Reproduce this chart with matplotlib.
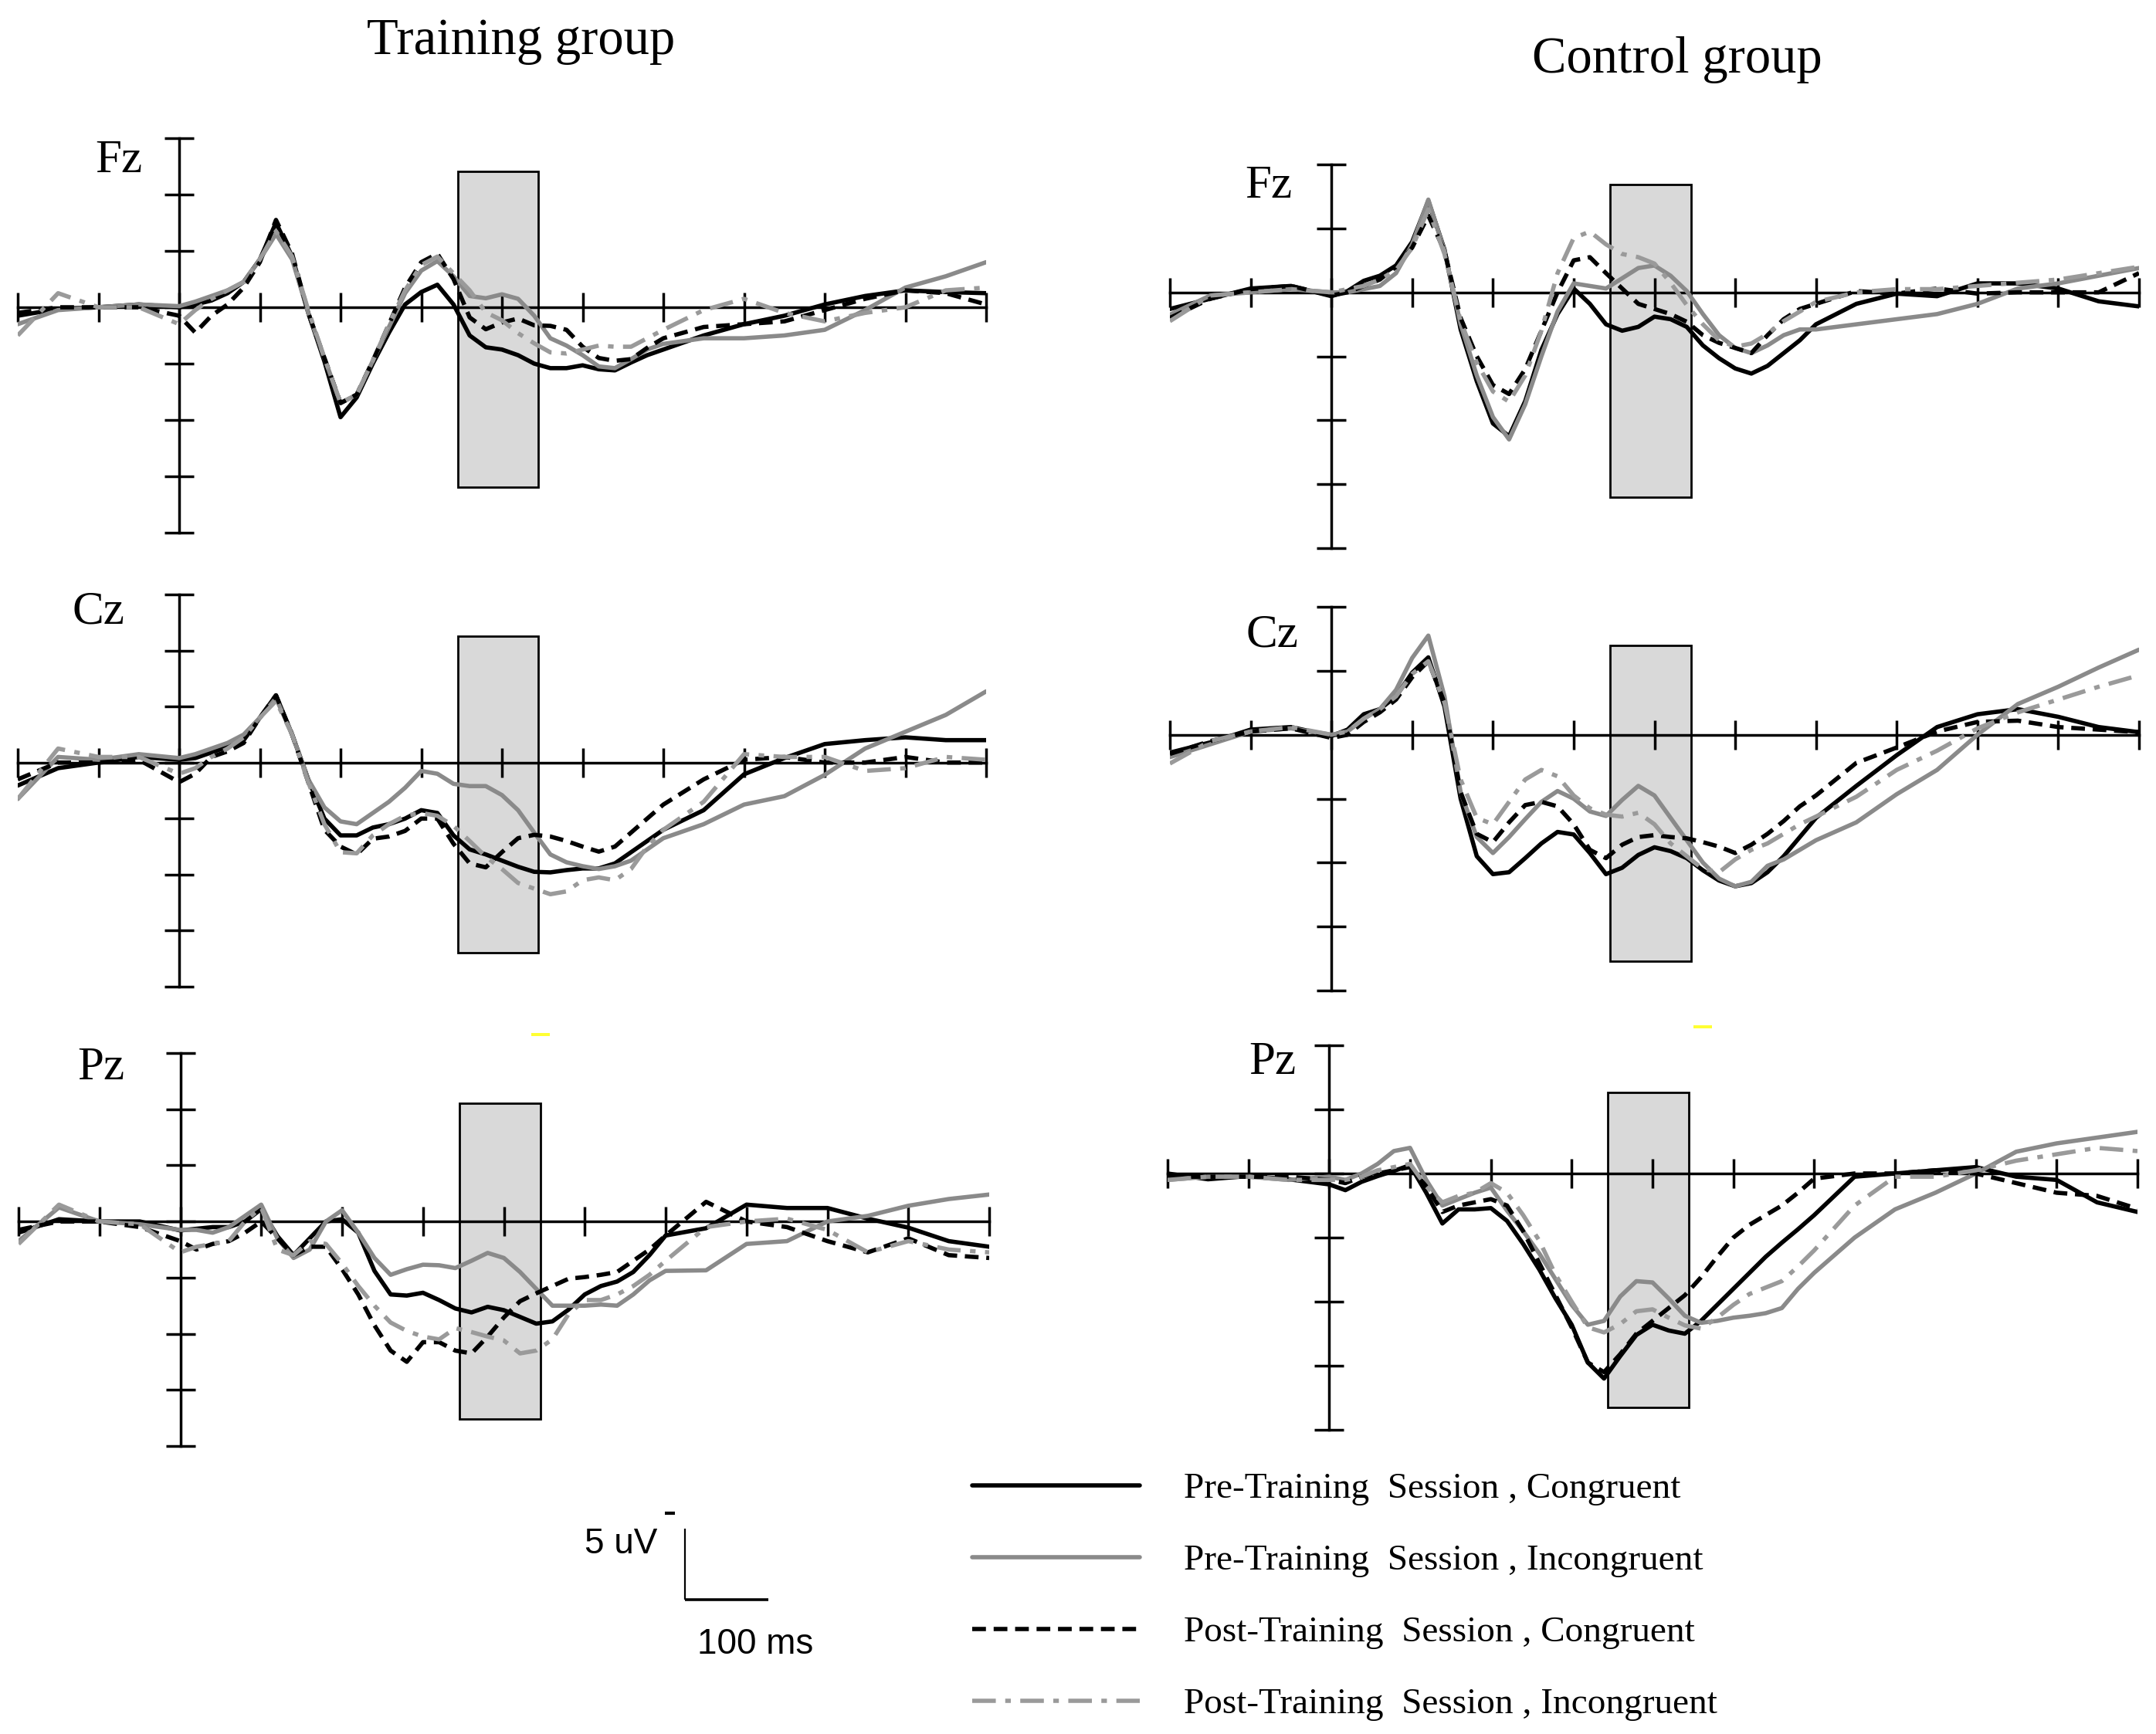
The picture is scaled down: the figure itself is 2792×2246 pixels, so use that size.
import numpy as np
import matplotlib
matplotlib.use("Agg")
import matplotlib.pyplot as plt
from matplotlib.patches import Rectangle

# ---------------- data ----------------
TIME_MS = [-200, -150, -100, -50, 0, 20, 40, 60, 80, 100, 120, 140, 160, 180, 200,
           220, 240, 260, 280, 300, 320, 340, 360, 380, 400, 420, 440, 460, 480, 500,
           520, 540, 560, 580, 600, 650, 700, 750, 800, 850, 900, 950, 1000]
UV_PER_DIV = 4.0          # one y-tick division = 4 uV (negative plotted up)
TIME_TICKS = list(range(-200, 1001, 100))
WINDOW_MS = [345, 445]

# values in divisions (positive = positive uV, drawn downward)
TRAIN_FZ_PRE_CON = [0.15, 0.03, 0.0, -0.05, 0.0,
    -0.05, -0.12, -0.25, -0.45, -0.85, -1.5, -0.9, 0.1, 0.96, 1.95,
    1.6, 1.0, 0.45, -0.05, -0.27, -0.4, -0.05, 0.5, 0.71, 0.75,
    0.85, 1.0, 1.08, 1.08, 1.03, 1.1, 1.12, 0.98, 0.85, 0.75,
    0.5, 0.3, 0.15, -0.05, -0.2, -0.3, -0.27, -0.25]
TRAIN_FZ_PRE_INC = [0.3, 0.05, 0.0, -0.05, -0.02,
    -0.1, -0.2, -0.3, -0.45, -0.85, -1.3, -0.85, 0.1, 0.9, 1.7,
    1.55, 0.95, 0.35, -0.25, -0.65, -0.82, -0.55, -0.2, -0.16, -0.23,
    -0.15, 0.15, 0.55, 0.68, 0.85, 1.05, 1.08, 0.92, 0.75, 0.65,
    0.55, 0.55, 0.5, 0.4, 0.05, -0.35, -0.55, -0.8]
TRAIN_FZ_POST_CON = [0.1, 0.0, 0.0, 0.0, 0.15,
    0.45, 0.15, -0.05, -0.35, -0.8, -1.55, -0.95, 0.1, 0.9, 1.7,
    1.55, 0.95, 0.3, -0.35, -0.8, -0.95, -0.5, 0.18, 0.39, 0.27,
    0.2, 0.32, 0.33, 0.4, 0.7, 0.9, 0.95, 0.92, 0.72, 0.55,
    0.35, 0.3, 0.25, 0.05, -0.15, -0.3, -0.25, -0.05]
TRAIN_FZ_POST_INC = [0.5, -0.25, 0.0, 0.0, 0.3,
    0.05, -0.15, -0.3, -0.45, -0.85, -1.35, -0.9, 0.05, 0.9, 1.7,
    1.55, 0.95, 0.3, -0.3, -0.75, -0.9, -0.6, -0.3, 0.09, 0.23,
    0.46, 0.64, 0.8, 0.82, 0.75, 0.68, 0.7, 0.7, 0.55, 0.4,
    0.05, -0.15, 0.1, 0.25, 0.1, 0.0, -0.3, -0.35]

TRAIN_CZ_PRE_CON = [0.41, 0.1, 0.0, -0.1, -0.05,
    -0.08, -0.18, -0.28, -0.4, -0.8, -1.2, -0.5, 0.3, 1.0, 1.3,
    1.3, 1.16, 1.1, 1.0, 0.85, 0.9, 1.3, 1.55, 1.64, 1.75,
    1.86, 1.95, 1.96, 1.92, 1.89, 1.89, 1.8, 1.6, 1.4, 1.2,
    0.85, 0.21, -0.08, -0.33, -0.4, -0.45, -0.4, -0.4]
TRAIN_CZ_PRE_INC = [0.65, -0.1, -0.05, -0.15, -0.08,
    -0.15, -0.25, -0.35, -0.5, -0.8, -1.15, -0.5, 0.3, 0.8, 1.05,
    1.1, 0.9, 0.7, 0.45, 0.15, 0.2, 0.38, 0.42, 0.42, 0.58,
    0.85, 1.25, 1.64, 1.78, 1.85, 1.9, 1.85, 1.75, 1.55, 1.35,
    1.1, 0.75, 0.6, 0.22, -0.25, -0.55, -0.85, -1.27]
TRAIN_CZ_POST_CON = [0.3, 0.0, 0.0, -0.05, 0.35,
    0.2, -0.1, -0.2, -0.35, -0.8, -1.2, -0.5, 0.35, 1.2, 1.5,
    1.64, 1.36, 1.32, 1.22, 1.0, 1.0, 1.45, 1.8, 1.87, 1.6,
    1.35, 1.29, 1.32, 1.4, 1.5, 1.59, 1.5, 1.25, 1.0, 0.75,
    0.3, -0.05, -0.1, 0.0, 0.0, -0.1, 0.0, 0.0]
TRAIN_CZ_POST_INC = [0.65, -0.25, -0.1, -0.1, 0.2,
    0.1, -0.1, -0.25, -0.45, -0.8, -1.1, -0.5, 0.35, 1.1, 1.6,
    1.62, 1.3, 1.1, 0.95, 0.9, 0.95, 1.13, 1.4, 1.68, 1.9,
    2.15, 2.25, 2.35, 2.3, 2.1, 2.05, 2.1, 1.9, 1.5, 1.2,
    0.7, -0.15, -0.1, -0.1, 0.15, 0.1, -0.1, -0.05]

TRAIN_PZ_PRE_CON = [0.2, -0.04, 0.0, 0.0, 0.16,
    0.13, 0.1, 0.1, 0.0, -0.22, 0.26, 0.6, 0.3, 0.0, -0.04,
    0.2, 0.88, 1.3, 1.32, 1.27, 1.4, 1.55, 1.62, 1.52, 1.58,
    1.7, 1.82, 1.78, 1.57, 1.3, 1.15, 1.07, 0.9, 0.6, 0.25,
    0.12, -0.3, -0.24, -0.24, -0.05, 0.11, 0.35, 0.45]
TRAIN_PZ_PRE_INC = [0.35, -0.25, 0.0, 0.05, 0.15,
    0.15, 0.2, 0.1, -0.1, -0.3, 0.3, 0.65, 0.5, 0.0, -0.2,
    0.2, 0.65, 0.95, 0.85, 0.77, 0.78, 0.83, 0.7, 0.56, 0.65,
    0.9, 1.2, 1.5, 1.5, 1.5, 1.48, 1.5, 1.3, 1.05, 0.88,
    0.87, 0.4, 0.35, 0.0, -0.1, -0.28, -0.4, -0.48]
TRAIN_PZ_POST_CON = [0.15, 0.0, 0.0, 0.1, 0.35,
    0.5, 0.4, 0.35, 0.2, 0.0, 0.3, 0.6, 0.45, 0.45, 0.85,
    1.3, 1.85, 2.3, 2.5, 2.15, 2.15, 2.3, 2.35, 2.05, 1.71,
    1.42, 1.28, 1.15, 1.02, 0.99, 0.95, 0.9, 0.7, 0.5, 0.25,
    -0.35, 0.0, 0.1, 0.35, 0.55, 0.3, 0.6, 0.65]
TRAIN_PZ_POST_INC = [0.4, -0.3, 0.0, 0.05, 0.55,
    0.45, 0.4, 0.35, 0.0, -0.25, 0.5, 0.6, 0.35, 0.4, 0.75,
    1.15, 1.5, 1.8, 1.95, 2.05, 2.1, 1.9, 1.97, 2.05, 2.12,
    2.35, 2.3, 2.1, 1.65, 1.4, 1.4, 1.3, 1.15, 0.95, 0.7,
    0.1, 0.0, -0.05, 0.15, 0.55, 0.35, 0.5, 0.55]

CTRL_FZ_PRE_CON = [0.26, 0.1, -0.06, -0.1, 0.06,
    -0.02, -0.18, -0.26, -0.42, -0.79, -1.43, -0.67, 0.58, 1.39, 2.05,
    2.25, 1.7, 0.9, 0.34, -0.06, 0.18, 0.5, 0.6, 0.54, 0.38,
    0.42, 0.54, 0.83, 1.03, 1.19, 1.27, 1.15, 0.95, 0.75, 0.5,
    0.18, 0.02, 0.06, -0.14, -0.14, -0.06, 0.14, 0.22]
CTRL_FZ_PRE_INC = [0.35, 0.05, 0.0, -0.05, 0.0,
    0.0, -0.05, -0.1, -0.3, -0.75, -1.45, -0.65, 0.5, 1.3, 1.95,
    2.3, 1.75, 1.0, 0.3, -0.14, -0.1, -0.06, -0.22, -0.38, -0.42,
    -0.26, -0.02, 0.34, 0.67, 0.87, 0.95, 0.83, 0.67, 0.58, 0.58,
    0.5, 0.42, 0.34, 0.18, -0.06, -0.14, -0.26, -0.38]
CTRL_FZ_POST_CON = [0.4, 0.1, -0.05, -0.1, 0.05,
    0.0, -0.1, -0.2, -0.4, -0.7, -1.2, -0.65, 0.4, 1.0, 1.45,
    1.59, 1.2, 0.6, 0.0, -0.5, -0.55, -0.3, -0.06, 0.18, 0.26,
    0.34, 0.46, 0.67, 0.79, 0.87, 0.95, 0.67, 0.42, 0.26, 0.18,
    -0.02, 0.02, -0.06, 0.02, 0.0, 0.0, 0.0, -0.3]
CTRL_FZ_POST_INC = [0.45, 0.05, 0.0, -0.05, 0.0,
    -0.05, -0.1, -0.2, -0.35, -0.7, -1.3, -0.6, 0.45, 1.1, 1.55,
    1.71, 1.3, 0.6, -0.3, -0.85, -0.95, -0.75, -0.6, -0.55, -0.45,
    -0.15, 0.2, 0.5, 0.75, 0.85, 0.8, 0.65, 0.45, 0.3, 0.15,
    0.0, -0.05, -0.05, -0.1, -0.15, -0.2, -0.3, -0.4]

CTRL_CZ_PRE_CON = [0.28, 0.12, -0.08, -0.12, 0.02,
    -0.08, -0.32, -0.4, -0.6, -0.97, -1.21, -0.44, 1.0, 1.9, 2.18,
    2.15, 1.93, 1.7, 1.52, 1.56, 1.85, 2.18, 2.08, 1.88, 1.76,
    1.82, 1.93, 2.12, 2.28, 2.37, 2.32, 2.15, 1.9, 1.6, 1.3,
    0.8, 0.32, -0.12, -0.32, -0.4, -0.28, -0.12, -0.04]
CTRL_CZ_PRE_INC = [0.35, 0.15, -0.05, -0.1, 0.0,
    -0.05, -0.25, -0.4, -0.7, -1.2, -1.55, -0.6, 0.9, 1.6, 1.85,
    1.6, 1.32, 1.05, 0.88, 1.0, 1.2, 1.27, 1.02, 0.8, 0.95,
    1.3, 1.65, 2.0, 2.25, 2.37, 2.3, 2.05, 1.95, 1.8, 1.65,
    1.37, 0.93, 0.55, 0.0, -0.48, -0.75, -1.05, -1.33]
CTRL_CZ_POST_CON = [0.3, 0.1, -0.05, -0.1, 0.05,
    0.0, -0.2, -0.35, -0.55, -0.9, -1.15, -0.5, 0.9, 1.55, 1.68,
    1.37, 1.1, 1.05, 1.12, 1.4, 1.8, 1.93, 1.72, 1.6, 1.57,
    1.6, 1.62, 1.68, 1.75, 1.85, 1.72, 1.55, 1.35, 1.12, 0.95,
    0.44, 0.2, -0.05, -0.2, -0.22, -0.12, -0.08, -0.04]
CTRL_CZ_POST_INC = [0.45, 0.1, -0.05, -0.12, 0.0,
    -0.05, -0.25, -0.4, -0.6, -0.95, -1.15, -0.5, 0.7, 1.3, 1.4,
    1.05, 0.7, 0.55, 0.65, 0.95, 1.15, 1.25, 1.28, 1.22, 1.4,
    1.7, 1.9, 2.1, 2.15, 1.95, 1.8, 1.7, 1.55, 1.4, 1.28,
    0.97, 0.55, 0.25, -0.1, -0.35, -0.55, -0.75, -0.93]

CTRL_PZ_PRE_CON = [0.0, 0.09, 0.04, 0.09, 0.17,
    0.26, 0.13, 0.04, -0.04, -0.13, 0.3, 0.78, 0.56, 0.56, 0.54,
    0.74, 1.1, 1.5, 1.95, 2.36, 2.95, 3.2, 2.85, 2.52, 2.36,
    2.45, 2.5, 2.3, 2.05, 1.8, 1.55, 1.3, 1.08, 0.87, 0.65,
    0.05, 0.0, -0.05, -0.1, 0.05, 0.1, 0.45, 0.6]
CTRL_PZ_PRE_INC = [0.1, 0.05, 0.05, 0.1, 0.05,
    0.1, 0.0, -0.15, -0.35, -0.4, 0.1, 0.5, 0.4, 0.3, 0.22,
    0.58, 0.9, 1.25, 1.65, 2.05, 2.36, 2.3, 1.92, 1.68, 1.7,
    1.95, 2.22, 2.33, 2.3, 2.25, 2.22, 2.18, 2.1, 1.8, 1.55,
    1.0, 0.56, 0.3, 0.0, -0.34, -0.47, -0.56, -0.65]
CTRL_PZ_POST_CON = [0.05, 0.05, 0.05, 0.05, 0.1,
    0.15, 0.05, 0.0, -0.05, -0.1, 0.2, 0.6, 0.5, 0.45, 0.4,
    0.5, 0.9, 1.4, 1.9, 2.4, 2.95, 3.1, 2.82, 2.5, 2.3,
    2.1, 1.9, 1.62, 1.3, 1.0, 0.8, 0.65, 0.5, 0.3, 0.08,
    0.0, 0.0, -0.05, 0.0, 0.15, 0.3, 0.35, 0.55]
CTRL_PZ_POST_INC = [0.1, 0.05, 0.05, 0.1, 0.1,
    0.1, 0.05, -0.05, -0.1, -0.15, 0.2, 0.45, 0.35, 0.3, 0.15,
    0.3, 0.65, 1.05, 1.58, 2.0, 2.4, 2.48, 2.35, 2.15, 2.12,
    2.25, 2.37, 2.42, 2.25, 2.05, 1.88, 1.78, 1.68, 1.45, 1.2,
    0.5, 0.05, 0.05, -0.05, -0.2, -0.3, -0.4, -0.35]

# shaded analysis window vertical extent (divisions)
TRAIN_FZ_BOX = [-2.41, 3.19]
TRAIN_CZ_BOX = [-2.26, 3.39]
TRAIN_PZ_BOX = [-2.11, 3.52]
CTRL_FZ_BOX = [-1.69, 3.20]
CTRL_CZ_BOX = [-1.40, 3.54]
CTRL_PZ_BOX = [-1.26, 3.65]

GROUP_TITLES = ["Training group", "Control group"]
LEGEND_LABELS = ["Pre-Training  Session , Congruent",
                 "Pre-Training  Session , Incongruent",
                 "Post-Training  Session , Congruent",
                 "Post-Training  Session , Incongruent"]

# ---------------- layout ----------------
W, H, DPI = 2792, 2246, 100
fig = plt.figure(figsize=(W / DPI, H / DPI), dpi=DPI)
fig.patch.set_facecolor("white")

SERIF = ["Liberation Serif", "DejaVu Serif"]
SANS = ["Liberation Sans", "DejaVu Sans"]

def rect(x0, x1, ytop, ybot):
    return [x0 / W, 1 - ybot / H, (x1 - x0) / W, (ybot - ytop) / H]

STYLES = [dict(color="black", linestyle="-"),
          dict(color="#8a8a8a", linestyle="-"),
          dict(color="black", dashes=(3.2, 1.8)),
          dict(color="#9a9a9a", dashes=(5.5, 2.2, 1.3, 2.2))]
LW = 4.0

panels = [
    ((23, 1277, 179, 690), (3, 4), [TRAIN_FZ_PRE_CON, TRAIN_FZ_PRE_INC, TRAIN_FZ_POST_CON, TRAIN_FZ_POST_INC], TRAIN_FZ_BOX, (154, 208), "Fz"),
    ((23, 1277, 770, 1278), (3, 4), [TRAIN_CZ_PRE_CON, TRAIN_CZ_PRE_INC, TRAIN_CZ_POST_CON, TRAIN_CZ_POST_INC], TRAIN_CZ_BOX, (127, 793), "Cz"),
    ((24, 1281, 1364, 1873), (3, 4), [TRAIN_PZ_PRE_CON, TRAIN_PZ_PRE_INC, TRAIN_PZ_POST_CON, TRAIN_PZ_POST_INC], TRAIN_PZ_BOX, (131, 1383), "Pz"),
    ((1515, 2770, 213, 710), (2, 4), [CTRL_FZ_PRE_CON, CTRL_FZ_PRE_INC, CTRL_FZ_POST_CON, CTRL_FZ_POST_INC], CTRL_FZ_BOX, (1643, 241), "Fz"),
    ((1515, 2770, 786, 1283), (2, 4), [CTRL_CZ_PRE_CON, CTRL_CZ_PRE_INC, CTRL_CZ_POST_CON, CTRL_CZ_POST_INC], CTRL_CZ_BOX, (1647, 823), "Cz"),
    ((1512, 2768, 1354, 1852), (2, 4), [CTRL_PZ_PRE_CON, CTRL_PZ_PRE_INC, CTRL_PZ_POST_CON, CTRL_PZ_POST_INC], CTRL_PZ_BOX, (1648, 1376), "Pz"),
]

t = np.array(TIME_MS, dtype=float)
legend_handles = None
for (pix, (nup, ndown), series, box, lab_xy, chan) in panels:
    ax = fig.add_axes(rect(*pix))
    ax.set_facecolor("none")
    ytop, ybot = -nup * UV_PER_DIV, ndown * UV_PER_DIV
    ax.set_xlim(TIME_TICKS[0], TIME_TICKS[-1])
    ax.set_ylim(ybot, ytop)  # negative up
    ax.add_patch(Rectangle((WINDOW_MS[0], box[0] * UV_PER_DIV),
                           WINDOW_MS[1] - WINDOW_MS[0],
                           (box[1] - box[0]) * UV_PER_DIV,
                           facecolor="#d9d9d9", edgecolor="black",
                           linewidth=2.0, zorder=1))
    handles = []
    for vals, st in zip(series, STYLES):
        assert len(vals) == len(TIME_MS)
        ln, = ax.plot(t, np.array(vals) * UV_PER_DIV, lw=LW, zorder=3,
                      solid_joinstyle="round", solid_capstyle="round", **st)
        handles.append(ln)
    if legend_handles is None:
        legend_handles = handles
    for s in ("top", "right"):
        ax.spines[s].set_visible(False)
    ax.spines["left"].set_position(("data", 0))
    ax.spines["bottom"].set_position(("data", 0))
    for s in ("left", "bottom"):
        ax.spines[s].set_linewidth(2.5)
        ax.spines[s].set_zorder(2.5)
    ax.set_xticks(TIME_TICKS)
    ax.set_yticks(np.arange(ytop, ybot + 0.1, UV_PER_DIV))
    ax.tick_params(axis="both", direction="inout", length=27, width=2.5,
                   labelbottom=False, labelleft=False, color="black")
    fig.text(lab_xy[0] / W, 1 - lab_xy[1] / H, chan, ha="center", va="center",
             fontsize=44, family=SERIF)

fig.text(675 / W, 1 - 54 / H, GROUP_TITLES[0], ha="center", va="center",
         fontsize=48, family=SERIF)
fig.text(2172 / W, 1 - 78 / H, GROUP_TITLES[1], ha="center", va="center",
         fontsize=48, family=SERIF)

# small yellow marks present in the original
for (x0, y0, w, h) in [(688, 1338, 24, 4), (2193, 1328, 24, 4)]:
    fig.patches.append(Rectangle((x0 / W, 1 - (y0 + h) / H), w / W, h / H,
                                 transform=fig.transFigure, facecolor="#ffff33",
                                 edgecolor="none"))

# scale bar: 100 ms horizontally, 5 uV vertically
SCALE_MS, SCALE_UV = 100, 5
sax = fig.add_axes(rect(887, 995, 1980, 2072))
sax.set_xlim(0, SCALE_MS)
sax.set_ylim(0, SCALE_UV)
sax.axis("off")
sax.plot([0, 0], [0, SCALE_UV], color="black", lw=1.6, clip_on=False,
         solid_capstyle="butt")
sax.plot([0, SCALE_MS], [0, 0], color="black", lw=2.6, clip_on=False,
         solid_capstyle="butt")
sax.plot([-24, -12], [SCALE_UV * 1.22, SCALE_UV * 1.22], color="black", lw=3,
         clip_on=False, solid_capstyle="butt")
fig.text(804 / W, 1 - 2000 / H, "5 uV", ha="center", va="center",
         fontsize=33, family=SANS)
fig.text(978 / W, 1 - 2130 / H, "100 ms", ha="center", va="center",
         fontsize=33, family=SANS)

leg = fig.legend(legend_handles, LEGEND_LABELS, loc="upper left",
                 bbox_to_anchor=(1259 / W, 1 - 1907 / H),
                 bbox_transform=fig.transFigure, frameon=False,
                 prop={"family": SERIF, "size": 34},
                 handlelength=4.6, handletextpad=1.2, labelspacing=1.06,
                 borderpad=0, borderaxespad=0)

fig.savefig("out.png", dpi=DPI, facecolor="white")
